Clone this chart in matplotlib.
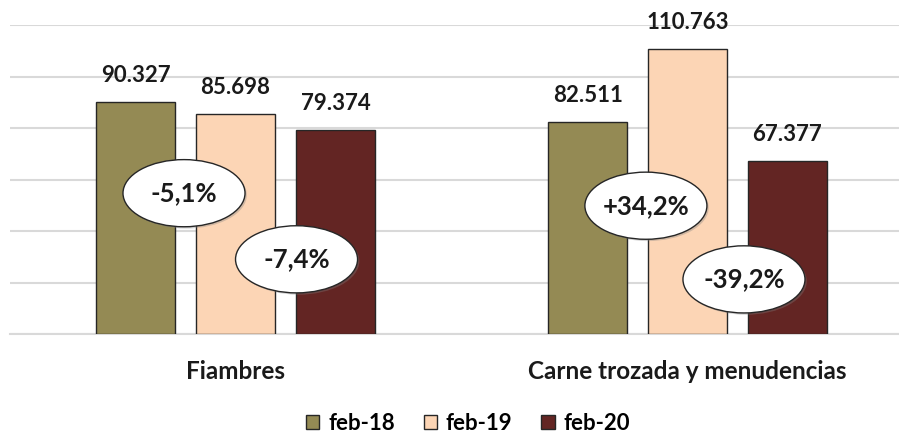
import numpy as np
import matplotlib.pyplot as plt
from matplotlib.patches import Ellipse, Patch

# data
categorias = ['Fiambres', 'Carne trozada y menudencias']
series = ['feb-18', 'feb-19', 'feb-20']
feb18 = [90327, 82511]
feb19 = [85698, 110763]
feb20 = [79374, 67377]
variaciones = ['-5,1%', '-7,4%', '+34,2%', '-39,2%']

colores = ['#948A54', '#FCD5B5', '#632523']

plt.rcParams['font.family'] = ['Lato', 'DejaVu Sans']

fig = plt.figure(figsize=(8.99, 4.36), dpi=100)
ax = fig.add_axes([10/899, (436-334)/436, 889/899, 308.7/436])

x = np.arange(len(categorias))
ancho = 0.175
desp = 0.221

for i, vals in enumerate([feb18, feb19, feb20]):
    barras = ax.bar(x + (i-1)*desp, vals, ancho, color=colores[i],
                    edgecolor='#262626', linewidth=1.0, zorder=3, label=series[i])
    for b, v in zip(barras, vals):
        ax.annotate(f'{v:,}'.replace(',', '.'), (b.get_x()+b.get_width()/2, v),
                    xytext=(0, 19), textcoords='offset points', ha='center', va='center',
                    fontsize=16, fontweight='bold', color='#1a1a1a', zorder=5)

# ellipses with the variations
pos_elipses = [(-0.114, 54740), (0.135, 29030), (0.908, 49870), (1.125, 21230)]
for (ex, ey), txt in zip(pos_elipses, variaciones):
    sombra = Ellipse((ex+0.004, ey-700), 0.27, 26100, facecolor='#7f7f7f', alpha=0.35,
                     edgecolor='none', zorder=5)
    ax.add_patch(sombra)
    e = Ellipse((ex, ey), 0.27, 26100, facecolor='white', edgecolor='#262626',
                linewidth=1.0, zorder=6)
    ax.add_patch(e)
    ax.text(ex, ey, txt, ha='center', va='center', fontsize=18.5, fontweight='bold',
            color='#1a1a1a', zorder=7)

ax.set_ylim(0, 120000)
ax.set_xlim(-0.499, 1.468)
ax.set_yticks(np.arange(0, 120001, 20000))
ax.yaxis.grid(True, color='#D9D9D9', linewidth=1.5, zorder=0)
ax.tick_params(axis='y', left=False, labelleft=False)
ax.tick_params(axis='x', length=0, pad=19)
ax.set_xticks(x)
ax.set_xticklabels(categorias, fontsize=17.5, fontweight='bold', color='#1a1a1a')
for s in ['top', 'right', 'left']:
    ax.spines[s].set_visible(False)
ax.spines['bottom'].set_color('#D9D9D9')
ax.spines['bottom'].set_linewidth(1.5)

handles = [Patch(facecolor=c, edgecolor='#262626', linewidth=1.0) for c in colores]
fig.legend(handles, series, loc='center', bbox_to_anchor=(468/899, 1-423/436), ncol=3,
           frameon=False, handlelength=0.6, handleheight=0.6,
           handletextpad=0.4, columnspacing=1.3, prop={'weight': 'bold', 'size': 16})

fig.savefig('out.png', dpi=100)
